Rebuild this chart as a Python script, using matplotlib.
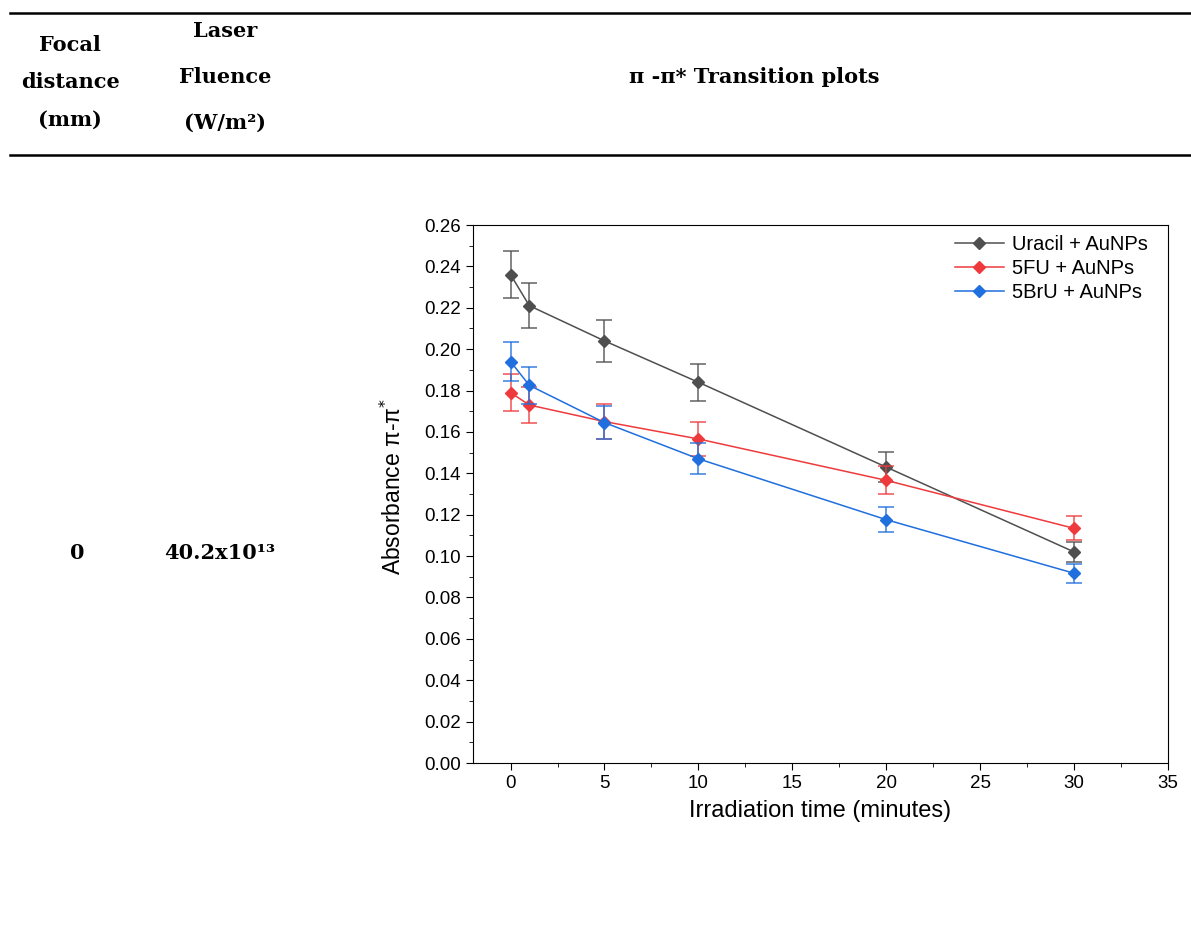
import numpy as np
import matplotlib.pyplot as plt
from matplotlib.ticker import MultipleLocator

# data
time = [0, 1, 5, 10, 20, 30]
series = ['Uracil + AuNPs', '5FU + AuNPs', '5BrU + AuNPs']
uracil = [0.236, 0.221, 0.204, 0.184, 0.143, 0.102]
uracil_err = [0.0115, 0.011, 0.010, 0.009, 0.0073, 0.005]
fu = [0.179, 0.173, 0.165, 0.1566, 0.1366, 0.1134]
fu_err = [0.009, 0.0087, 0.0083, 0.008, 0.0067, 0.0058]
bru = [0.194, 0.1825, 0.1645, 0.147, 0.1176, 0.0917]
bru_err = [0.0095, 0.009, 0.008, 0.0075, 0.006, 0.0047]
colors = ['#4f4f4f', '#ef3a3d', '#1f6fde']

head_font = {'family': 'DejaVu Serif', 'weight': 'bold', 'size': 15}
plt.rcParams['font.family'] = ['Liberation Sans', 'DejaVu Sans']

fig = plt.figure(figsize=(11.91, 9.51), dpi=100)

# table rules
fig.add_artist(plt.Line2D([10/1191, 1], [1-13/951, 1-13/951], color='black', lw=1.8))
fig.add_artist(plt.Line2D([10/1191, 1], [1-155/951, 1-155/951], color='black', lw=1.8))

def ftext(x, y, s, **kw):
    fig.text(x/1191, 1-y/951, s, ha='center', va='center', **head_font, **kw)

ftext(70, 45, 'Focal')
ftext(70, 82, 'distance')
ftext(70, 120, '(mm)')
ftext(225, 31, 'Laser')
ftext(225, 77, 'Fluence')
ftext(225, 123, '(W/m²)')
ftext(754, 77, 'π -π* Transition plots')
ftext(77, 553, '0')
ftext(220, 553, '40.2x10¹³')

ax = fig.add_axes([473/1191, 1-763/951, 695/1191, 538/951])
for ys, es, c, lab in zip([uracil, fu, bru], [uracil_err, fu_err, bru_err], colors, series):
    ax.errorbar(time, ys, yerr=es, fmt='none', ecolor=c, alpha=0.75,
                elinewidth=1.3, capsize=6, capthick=1.3)
    ax.plot(time, ys, color=c, lw=1.1, marker='D', markersize=6, label=lab)

ax.set_xlim(-2, 35)
ax.set_ylim(0, 0.26)
ax.xaxis.set_major_locator(MultipleLocator(5))
ax.xaxis.set_minor_locator(MultipleLocator(2.5))
ax.yaxis.set_major_locator(MultipleLocator(0.02))
ax.yaxis.set_minor_locator(MultipleLocator(0.01))
ax.yaxis.set_major_formatter(plt.FuncFormatter(lambda v, p: f'{v:.2f}'))
ax.tick_params(which='major', direction='out', length=5, labelsize=13.5)
ax.tick_params(which='minor', direction='out', length=3)
ax.set_xlabel('Irradiation time (minutes)', fontsize=17, labelpad=6)
ax.set_ylabel('Absorbance π-π$^{*}$', fontsize=16.5)
ax.yaxis.set_label_coords(-0.097, 0.515)
ax.legend(loc='upper right', frameon=False, fontsize=14.5, handlelength=2.4,
          borderaxespad=0.1, labelspacing=0.25, handletextpad=0.4,
          bbox_to_anchor=(0.985, 1.0))

plt.savefig('out.png', dpi=100)
